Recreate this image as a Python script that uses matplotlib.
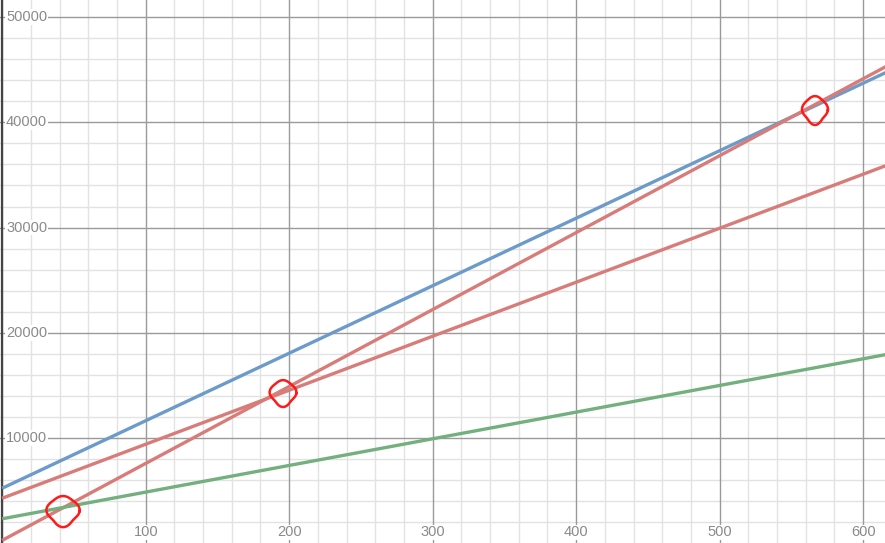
import numpy as np
import matplotlib
matplotlib.use("Agg")
import matplotlib.pyplot as plt
import matplotlib.transforms as mtransforms

plt.rcParams['font.family'] = ['Liberation Sans', 'DejaVu Sans']

# line endpoints (value at x_ends[0], x_ends[1])
x_ends = [0, 620]
blue_y = [5250, 45000]
red_steep_y = [300, 45600]
red_flat_y = [4300, 36100]
green_y = [2350, 18050]

x_ticks = [100, 200, 300, 400, 500, 600]
y_ticks = [10000, 20000, 30000, 40000, 50000]

# hand drawn marks: centre x, centre y, half width, half height
circles = [(42.4, 3090, 10.8, 1380),
           (195.7, 14290, 8.7, 1190),
           (566.4, 41170, 8.4, 1280)]

fig = plt.figure(figsize=(8.85, 5.43), dpi=100)
ax = fig.add_axes([0, 0, 1, 1])
ax.set_xlim(-1.53, 615.2)
ax.set_ylim(50, 51616)

# grid
for gx in np.arange(0, 621, 20):
    major = gx % 100 == 0
    ax.axvline(gx, color='#9a9a9a' if major else '#e2e2e2',
               lw=1.0, zorder=1 if major else 0)
for gy in np.arange(0, 52001, 2000):
    major = gy % 10000 == 0
    ax.axhline(gy, color='#9a9a9a' if major else '#e2e2e2',
               lw=1.0, zorder=1 if major else 0)
ax.axvline(0, color='#444444', lw=1.6, zorder=2)

# lines
ax.plot(x_ends, blue_y, color='#6c9bca', lw=2.4, zorder=4, solid_capstyle='butt')
ax.plot(x_ends, red_steep_y, color='#d87c79', lw=2.4, zorder=4, solid_capstyle='butt')
ax.plot(x_ends, red_flat_y, color='#d87c79', lw=2.4, zorder=4, solid_capstyle='butt')
ax.plot(x_ends, green_y, color='#74af7e', lw=2.4, zorder=4, solid_capstyle='butt')

# tick labels
tr_x = mtransforms.blended_transform_factory(ax.transData, ax.transAxes)
for xv in x_ticks:
    ax.text(xv, 10.5 / 543, str(xv), transform=tr_x, ha='center', va='center',
            fontsize=10.5, color='#8a8a8a', zorder=3,
            bbox=dict(facecolor='white', edgecolor='none', pad=0.5))
tr_y = mtransforms.blended_transform_factory(ax.transAxes, ax.transData)
for yv in y_ticks:
    ax.text(6 / 885, yv, str(yv), transform=tr_y, ha='left', va='center',
            fontsize=10.5, color='#8a8a8a', zorder=3,
            bbox=dict(facecolor='white', edgecolor='none', pad=0.5))

# red hand drawn circles
t = np.linspace(0, 2 * np.pi, 120)
for cx, cy, rx, ry in circles:
    wobble = 1 + 0.07 * np.cos(4 * t) + 0.04 * np.sin(3 * t)
    ax.plot(cx + rx * wobble * np.cos(t), cy + ry * wobble * np.sin(t),
            color='#ff1a1a', lw=1.8, zorder=6)

ax.set_xticks([])
ax.set_yticks([])
for s in ax.spines.values():
    s.set_visible(False)

fig.savefig('out.png', dpi=100)
